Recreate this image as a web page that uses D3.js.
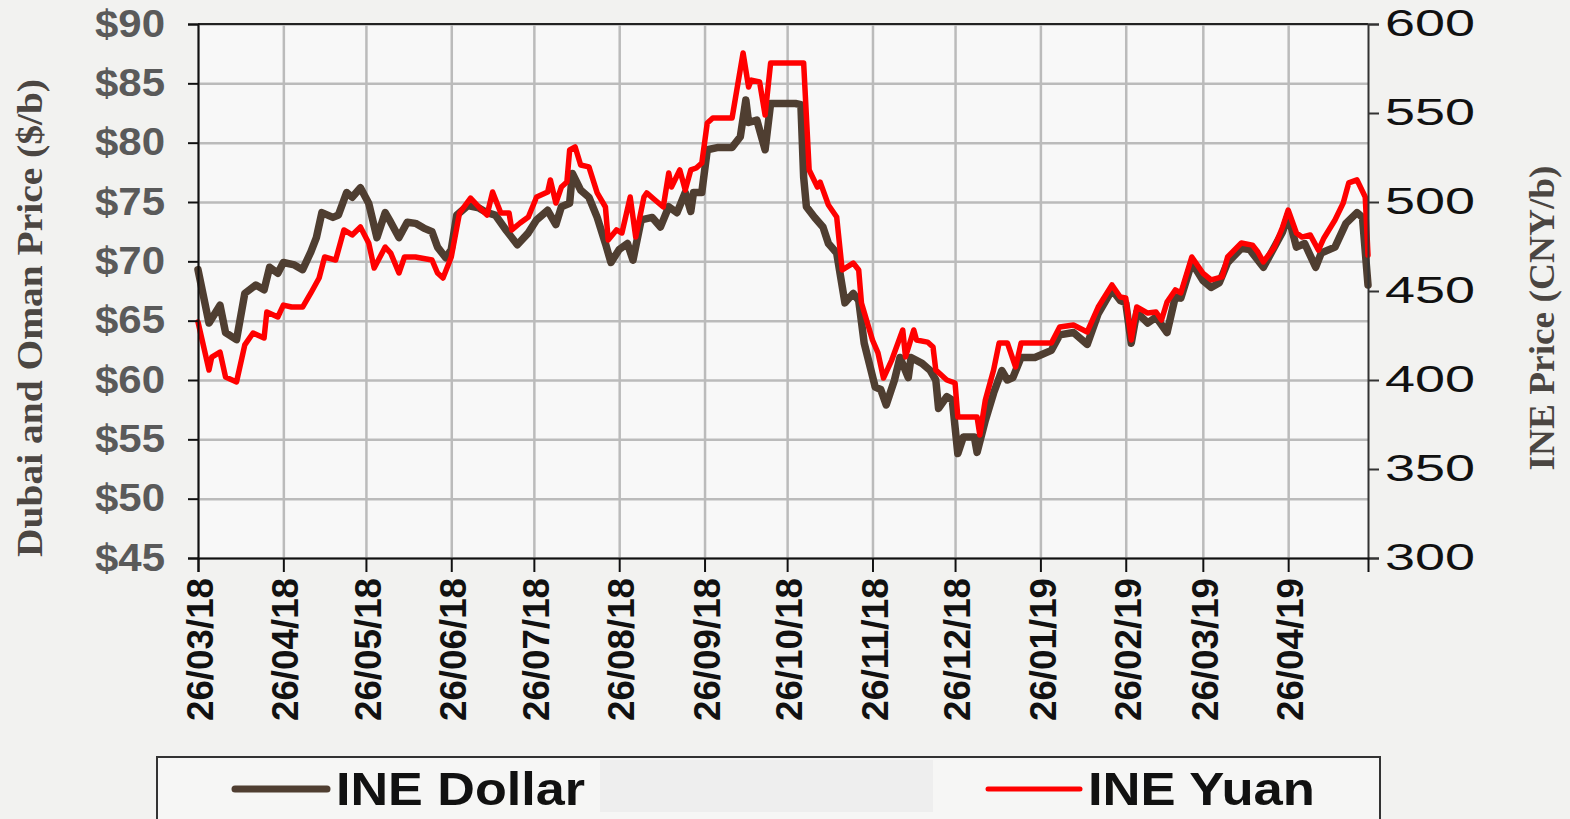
<!DOCTYPE html>
<html><head><meta charset="utf-8">
<script src="https://cdn.jsdelivr.net/npm/d3@7"></script>
<style>
html,body{margin:0;padding:0;background:#f2f2f0;}
svg{display:block;}
</style></head><body>
<svg id="chart" width="1570" height="819"></svg>
<script>
// ---------------- DATA ----------------
const dollarDates = ["2018-03-26","2018-03-30","2018-04-03","2018-04-05","2018-04-09","2018-04-12","2018-04-16","2018-04-19","2018-04-21","2018-04-24",
"2018-04-26","2018-04-30","2018-05-03","2018-05-06","2018-05-08","2018-05-10","2018-05-14","2018-05-16","2018-05-19","2018-05-21",
"2018-05-24","2018-05-27","2018-05-30","2018-06-02","2018-06-04","2018-06-07","2018-06-10","2018-06-13","2018-06-16","2018-06-19",
"2018-06-21","2018-06-24","2018-06-26","2018-06-28","2018-07-02","2018-07-06","2018-07-09","2018-07-12","2018-07-16","2018-07-20",
"2018-07-24","2018-07-27","2018-07-31","2018-08-03","2018-08-05","2018-08-08","2018-08-09","2018-08-12","2018-08-15","2018-08-18",
"2018-08-21","2018-08-23","2018-08-26","2018-08-29","2018-08-31","2018-09-03","2018-09-07","2018-09-10","2018-09-13","2018-09-16",
"2018-09-19","2018-09-21","2018-09-22","2018-09-25","2018-09-27","2018-10-01","2018-10-06","2018-10-09","2018-10-11","2018-10-12",
"2018-10-15","2018-10-18","2018-10-20","2018-10-24","2018-10-29","2018-10-31","2018-11-01","2018-11-02","2018-11-05","2018-11-08",
"2018-11-10","2018-11-13","2018-11-16","2018-11-19","2018-11-21","2018-11-23","2018-11-27","2018-11-29","2018-12-01","2018-12-04",
"2018-12-06","2018-12-09","2018-12-10","2018-12-14","2018-12-17","2018-12-19","2018-12-20","2018-12-23","2018-12-25","2018-12-27",
"2018-12-29","2019-01-02","2019-01-03","2019-01-06","2019-01-09","2019-01-12","2019-01-14","2019-01-16","2019-01-19","2019-01-24",
"2019-01-30","2019-02-02","2019-02-07","2019-02-12","2019-02-16","2019-02-21","2019-02-24","2019-02-26","2019-02-28","2019-03-02",
"2019-03-06","2019-03-09","2019-03-13","2019-03-16","2019-03-18","2019-03-22","2019-03-26","2019-03-29","2019-04-01","2019-04-04",
"2019-04-09","2019-04-12","2019-04-17","2019-04-24","2019-04-26","2019-04-29","2019-05-02","2019-05-06","2019-05-08","2019-05-13",
"2019-05-17","2019-05-21","2019-05-23","2019-05-25"];
const dollarValues = [69.3,64.8,66.3,64.0,63.4,67.3,68.0,67.6,69.5,69.0,
69.9,69.7,69.3,70.8,72.0,74.1,73.7,73.9,75.8,75.4,
76.2,74.9,72.0,74.1,73.3,72.0,73.3,73.2,72.8,72.5,
71.2,70.3,71.0,73.9,74.7,74.5,74.1,73.9,72.6,71.4,
72.4,73.5,74.3,73.1,74.6,74.9,77.4,76.0,75.4,73.7,
71.5,69.9,71.0,71.5,70.1,73.5,73.7,72.9,74.6,74.1,
75.8,74.2,75.8,75.8,79.4,79.6,79.6,80.5,83.6,81.7,
81.9,79.4,83.3,83.3,83.3,83.2,77.1,74.6,73.7,72.9,
71.5,70.7,66.5,67.3,66.7,63.1,59.4,59.2,57.9,60.0,
61.9,60.2,61.9,61.4,60.8,60.0,57.6,58.6,58.3,53.8,
55.2,55.2,53.9,56.6,58.9,60.8,60.0,60.2,61.9,61.9,
62.5,63.8,64.0,63.0,65.6,67.6,66.7,66.5,63.1,65.7,
64.8,65.3,64.0,67.0,66.9,69.9,68.4,67.8,68.2,69.9,
71.1,71.0,69.5,72.5,73.9,71.2,71.5,69.5,70.7,71.2,
73.2,74.1,73.7,68.0];

const yuanDates = ["2018-03-26","2018-03-30","2018-03-31","2018-04-03","2018-04-05","2018-04-09","2018-04-12","2018-04-15","2018-04-19","2018-04-20",
"2018-04-24","2018-04-26","2018-04-29","2018-05-03","2018-05-06","2018-05-09","2018-05-11","2018-05-15","2018-05-18","2018-05-21",
"2018-05-24","2018-05-27","2018-05-29","2018-06-02","2018-06-04","2018-06-07","2018-06-09","2018-06-13","2018-06-19","2018-06-21",
"2018-06-23","2018-06-26","2018-06-29","2018-07-03","2018-07-06","2018-07-09","2018-07-11","2018-07-14","2018-07-17","2018-07-18",
"2018-07-21","2018-07-24","2018-07-27","2018-07-31","2018-08-01","2018-08-03","2018-08-05","2018-08-07","2018-08-08","2018-08-10",
"2018-08-12","2018-08-15","2018-08-18","2018-08-21","2018-08-22","2018-08-25","2018-08-27","2018-08-30","2018-09-01","2018-09-04",
"2018-09-05","2018-09-08","2018-09-11","2018-09-13","2018-09-14","2018-09-17","2018-09-19","2018-09-21","2018-09-23","2018-09-25",
"2018-09-27","2018-09-29","2018-10-06","2018-10-10","2018-10-12","2018-10-13","2018-10-16","2018-10-18","2018-10-20","2018-11-01",
"2018-11-03","2018-11-06","2018-11-07","2018-11-10","2018-11-13","2018-11-15","2018-11-19","2018-11-21","2018-11-22","2018-11-26",
"2018-11-28","2018-11-30","2018-12-03","2018-12-07","2018-12-08","2018-12-11","2018-12-12","2018-12-16","2018-12-18","2018-12-19",
"2018-12-21","2018-12-23","2018-12-26","2018-12-27","2019-01-03","2019-01-04","2019-01-06","2019-01-09","2019-01-11","2019-01-14",
"2019-01-17","2019-01-19","2019-01-30","2019-02-02","2019-02-07","2019-02-12","2019-02-16","2019-02-21","2019-02-24","2019-02-26",
"2019-02-28","2019-03-02","2019-03-06","2019-03-09","2019-03-11","2019-03-13","2019-03-16","2019-03-18","2019-03-22","2019-03-26",
"2019-03-29","2019-04-02","2019-04-04","2019-04-09","2019-04-13","2019-04-15","2019-04-17","2019-04-21","2019-04-24","2019-04-26",
"2019-04-29","2019-05-01","2019-05-04","2019-05-07","2019-05-09","2019-05-13","2019-05-16","2019-05-18","2019-05-21","2019-05-24",
"2019-05-25"];
const yuanValues = [432.6,405.6,412.9,415.7,401.7,398.9,419.7,426.4,423.6,438.2,
435.4,442.1,441.0,441.0,448.9,457.3,469.1,467.4,484.3,481.5,
486.0,477.0,462.9,474.7,471.3,460.1,469.1,469.1,467.4,460.1,
457.3,469.1,493.8,502.2,497.2,492.7,505.6,493.8,493.8,484.3,
488.2,491.6,502.8,505.6,512.4,499.4,508.4,511.2,529.2,530.9,
520.8,519.7,505.1,497.2,478.7,484.3,482.6,502.8,480.3,502.8,
505.1,501.1,497.2,516.3,508.4,518.0,506.7,518.0,519.1,521.9,
544.4,547.2,547.2,583.7,564.6,568.5,567.4,548.9,578.1,578.1,
518.0,508.4,511.2,498.3,491.6,461.8,465.7,461.8,443.3,422.5,
415.2,401.1,411.2,428.1,412.9,428.1,422.5,421.3,418.5,405.6,
402.8,400.0,398.3,379.2,379.2,369.1,388.8,405.6,420.8,420.8,
407.3,420.8,420.8,429.8,430.9,427.0,441.0,453.4,446.6,446.1,
422.5,441.0,437.6,438.2,433.7,443.8,450.6,448.9,469.1,460.1,
456.2,457.9,469.1,477.0,475.8,471.9,466.3,474.7,486.0,495.5,
482.6,480.3,481.5,473.0,479.8,489.9,499.4,510.7,512.4,502.8,
470.2];

const xTickDates = ["2018-03-26","2018-04-26","2018-05-26","2018-06-26","2018-07-26","2018-08-26","2018-09-26",
"2018-10-26","2018-11-26","2018-12-26","2019-01-26","2019-02-26","2019-03-26","2019-04-26"];
const xDomain = ["2018-03-26","2019-05-25"];
const leftTicks = [45,50,55,60,65,70,75,80,85,90];
const rightTicks = [300,350,400,450,500,550,600];
const seriesNames = ["INE Dollar","INE Yuan"];
const leftTitle = "Dubai and Oman Price ($/b)";
const rightTitle = "INE Price (CNY/b)";

// ---------------- CHART ----------------
const svg = d3.select("#chart");
const m = {left:198, right:1368, top:24, bottom:558};
const parse = d3.utcParse("%Y-%m-%d");
const x = d3.scaleUtc().domain(xDomain.map(parse)).range([m.left, m.right]);
const yL = d3.scaleLinear().domain([45,90]).range([m.bottom, m.top]);
const yR = d3.scaleLinear().domain([300,600]).range([m.bottom, m.top]);
const sans = "'Liberation Sans', Arial, sans-serif";
const serif = "'Liberation Serif', 'DejaVu Serif', serif";
const brown = "#4f3e31", red = "#ff0000";

svg.append("rect").attr("x",0).attr("y",0).attr("width",1570).attr("height",819).attr("fill","#f2f2f0");
svg.append("rect").attr("x",m.left).attr("y",m.top).attr("width",m.right-m.left).attr("height",m.bottom-m.top).attr("fill","#f8f8f8");

// grid
svg.append("g").attr("transform",`translate(0,${m.bottom})`)
  .call(d3.axisBottom(x).tickValues(xTickDates.map(parse)).tickSize(-(m.bottom-m.top)).tickFormat(""))
  .call(g=>g.select(".domain").remove())
  .call(g=>g.selectAll("line").attr("stroke","#bbbbbb").attr("stroke-width",2.5));
svg.append("g").attr("transform",`translate(${m.left},0)`)
  .call(d3.axisLeft(yL).tickValues(leftTicks).tickSize(-(m.right-m.left)).tickFormat(""))
  .call(g=>g.select(".domain").remove())
  .call(g=>g.selectAll("line").attr("stroke","#bbbbbb").attr("stroke-width",2.5));

// lines
const dollar = dollarDates.map((d,i)=>({date:parse(d), v:dollarValues[i]}));
const yuan = yuanDates.map((d,i)=>({date:parse(d), v:yuanValues[i]}));
svg.append("path").datum(dollar).attr("fill","none").attr("stroke",brown).attr("stroke-width",7.5)
  .attr("stroke-linejoin","round").attr("stroke-linecap","round")
  .attr("d", d3.line().x(d=>x(d.date)).y(d=>yL(d.v)));
svg.append("path").datum(yuan).attr("fill","none").attr("stroke",red).attr("stroke-width",5.5)
  .attr("stroke-linejoin","round").attr("stroke-linecap","round")
  .attr("d", d3.line().x(d=>x(d.date)).y(d=>yR(d.v)));

// top border
svg.append("line").attr("x1",m.left).attr("x2",m.right).attr("y1",m.top).attr("y2",m.top)
  .attr("stroke","#222").attr("stroke-width",2);

// left axis
const gl = svg.append("g").attr("transform",`translate(${m.left},0)`)
  .call(d3.axisLeft(yL).tickValues(leftTicks).tickFormat(d=>"$"+d).tickSize(10).tickPadding(23));
gl.select(".domain").attr("stroke","#111").attr("stroke-width",2);
gl.selectAll(".tick line").attr("stroke","#111").attr("stroke-width",2);
gl.selectAll("text").attr("font-family",sans).attr("font-weight","bold").attr("font-size",38)
  .attr("fill","#5a5a5a").attr("textLength",70).attr("lengthAdjust","spacingAndGlyphs");

// right axis
const gr = svg.append("g").attr("transform",`translate(${m.right},0)`)
  .call(d3.axisRight(yR).tickValues(rightTicks).tickSize(11).tickPadding(6));
gr.select(".domain").attr("stroke","#333").attr("stroke-width",2);
gr.selectAll(".tick line").attr("stroke","#333").attr("stroke-width",2);
gr.selectAll("text").attr("font-family",sans).attr("font-size",37)
  .attr("fill","#111").attr("textLength",90).attr("lengthAdjust","spacingAndGlyphs");

// bottom axis
const gb = svg.append("g").attr("transform",`translate(0,${m.bottom})`)
  .call(d3.axisBottom(x).tickValues(xTickDates.map(parse)).tickFormat(d3.utcFormat("%d/%m/%y")).tickSize(14));
gb.select(".domain").attr("stroke","#111").attr("stroke-width",2);
gb.selectAll(".tick line").attr("stroke","#111").attr("stroke-width",2);
gb.selectAll("text").attr("font-family",sans).attr("font-weight","bold").attr("font-size",36)
  .attr("fill","#111").attr("transform","rotate(-90)").attr("text-anchor","end")
  .attr("x",-20).attr("y",2).attr("dy","0.35em")
  .attr("textLength",143).attr("lengthAdjust","spacingAndGlyphs");

// axis titles
svg.append("text").attr("transform","translate(42,318) rotate(-90)").attr("text-anchor","middle")
  .attr("font-family",serif).attr("font-weight","bold").attr("font-size",35).attr("fill","#4b4642")
  .attr("textLength",478).attr("lengthAdjust","spacingAndGlyphs").text(leftTitle);
svg.append("text").attr("transform","translate(1554,318) rotate(-90)").attr("text-anchor","middle")
  .attr("font-family",serif).attr("font-weight","bold").attr("font-size",35).attr("fill","#4b4642")
  .attr("textLength",305).attr("lengthAdjust","spacingAndGlyphs").text(rightTitle);

// legend
const lg = svg.append("g");
lg.append("rect").attr("x",157).attr("y",757).attr("width",1223).attr("height",90)
  .attr("fill","#f6f6f5").attr("stroke","#333").attr("stroke-width",2);
lg.append("rect").attr("x",600).attr("y",760).attr("width",333).attr("height",52).attr("fill","#eeeeee");
const legendItems = [
  {name:seriesNames[0], color:brown, w:7, x1:235, x2:327, tx:336, tl:249},
  {name:seriesNames[1], color:red, w:5, x1:988, x2:1080, tx:1088, tl:227}
];
legendItems.forEach(it=>{
  lg.append("line").attr("x1",it.x1).attr("x2",it.x2).attr("y1",789).attr("y2",789)
    .attr("stroke",it.color).attr("stroke-width",it.w).attr("stroke-linecap","round");
  lg.append("text").attr("x",it.tx).attr("y",805).attr("font-family",sans).attr("font-weight","bold")
    .attr("font-size",47).attr("fill","#111").attr("textLength",it.tl).attr("lengthAdjust","spacingAndGlyphs")
    .text(it.name);
});
</script>
</body></html>
